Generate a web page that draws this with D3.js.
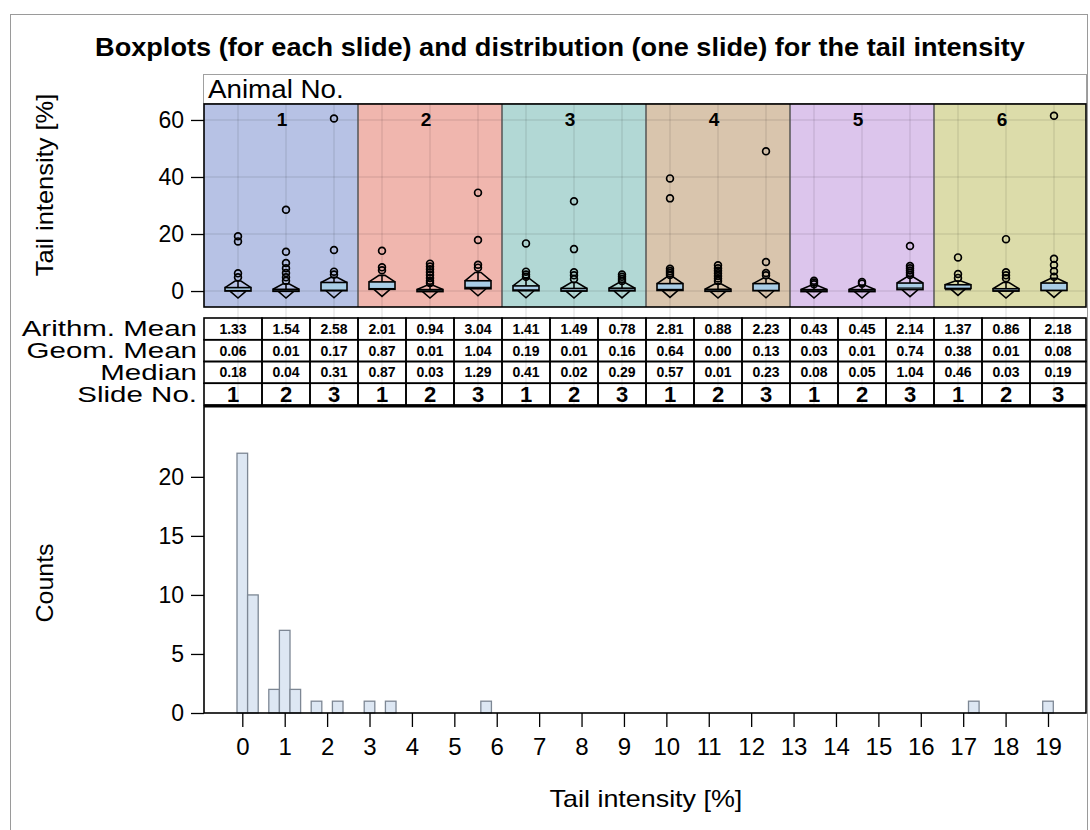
<!DOCTYPE html>
<html>
<head>
<meta charset="utf-8">
<script src="https://cdn.jsdelivr.net/npm/d3@7"></script>
<style>
  body { margin: 0; background: #fff; }
  text { font-family: "Liberation Sans", Arial, sans-serif; fill: #000; }
</style>
</head>
<body>
<svg id="chart" width="1090" height="830"></svg>
<script>
// ---- data ----
const animals = ["1", "2", "3", "4", "5", "6"]
const slides = ["1", "2", "3"]
const panelColors = ["#b7c2e5", "#f0b6ae", "#b2d8d5", "#d9c5ad", "#dcc5ec", "#dcdcaa"]

const arithMean = [1.33, 1.54, 2.58, 2.01, 0.94, 3.04, 1.41, 1.49, 0.78, 2.81, 0.88, 2.23, 0.43, 0.45, 2.14, 1.37, 0.86, 2.18]
const geomMean  = [0.06, 0.01, 0.17, 0.87, 0.01, 1.04, 0.19, 0.01, 0.16, 0.64, 0.00, 0.13, 0.03, 0.01, 0.74, 0.38, 0.01, 0.08]
const medianVal = [0.18, 0.04, 0.31, 0.87, 0.03, 1.29, 0.41, 0.02, 0.29, 0.57, 0.01, 0.23, 0.08, 0.05, 1.04, 0.46, 0.03, 0.19]

// box glyph values per slide (q1, q3, upper whisker)
const boxQ1 = [0.0, 0.0, 0.1, 0.6, 0.0, 0.8, 0.1, 0.0, 0.05, 0.2, 0.0, 0.1, 0.0, 0.0, 0.5, 0.9, 0.0, 0.2]
const boxQ3 = [1.2, 0.6, 3.0, 3.2, 0.5, 3.6, 1.8, 0.9, 1.0, 2.6, 0.6, 2.6, 0.5, 0.5, 2.8, 2.2, 0.8, 2.8]
const boxHi = [3.5, 2.5, 4.8, 5.5, 2.0, 6.5, 4.5, 3.0, 3.0, 5.0, 2.5, 4.5, 2.0, 2.0, 5.0, 3.5, 3.0, 4.5]
const outliers = [
  [19.2, 17.4, 6.2, 4.8],
  [28.5, 13.8, 9.8, 8.0, 6.3, 4.8, 3.6],
  [60.5, 14.4, 6.8, 5.8],
  [14.1, 8.3, 7.3],
  [9.6, 8.6, 7.6, 6.6, 5.6, 4.6, 3.6, 2.8],
  [34.5, 17.9, 9.2, 8.2],
  [16.7, 6.8, 5.8, 5.0],
  [31.5, 14.7, 6.6, 5.5, 4.2],
  [5.8, 5.0, 4.2, 3.5],
  [39.5, 32.5, 7.8, 7.0, 6.3, 5.6],
  [9.0, 8.0, 7.1, 6.2, 5.3, 4.4, 3.5],
  [49.0, 10.2, 6.3, 5.5],
  [3.6, 3.0, 2.4],
  [3.2, 2.6],
  [15.8, 8.8, 8.0, 7.2, 6.4, 5.6],
  [11.8, 6.0, 4.6],
  [18.2, 6.6, 5.5, 4.5],
  [61.5, 11.3, 9.1, 6.9, 5.0]
]
const boxTicks = [0, 20, 40, 60]

// histogram of one slide (bin centre, count), bin width 0.25
const histBins   = [0, 0.25, 0.75, 1.0, 1.25, 1.75, 2.25, 3.0, 3.5, 5.75, 17.25, 19.0]
const histCounts = [22, 10, 2, 7, 2, 1, 1, 1, 1, 1, 1, 1]
const histXTicks = [0, 1, 2, 3, 4, 5, 6, 7, 8, 9, 10, 11, 12, 13, 14, 15, 16, 17, 18, 19]
const histYTicks = [0, 5, 10, 15, 20]
const binWidth = 0.25

const tableRows = [
  { label: "Arithm. Mean", values: arithMean },
  { label: "Geom. Mean", values: geomMean },
  { label: "Median", values: medianVal }
]

// ---- layout ----
const svg = d3.select("#chart")
const plotL = 204, plotR = 1086
const boxTop = 104, boxBot = 307
const tableTop = 318, rowH = 21.75
const histTop = 406, histBot = 713

const slots = d3.range(animals.length * slides.length)
const xSlot = d3.scaleBand().domain(slots).range([214, 1078])
const cx = (i) => xSlot(i) + xSlot.bandwidth() / 2
const yBox = d3.scaleLinear().domain([-5.6, 65.6]).range([boxBot, boxTop])
const xHist = d3.scaleLinear().domain([0, 19]).range([242.3, 1048])
const yHist = d3.scaleLinear().domain([0, 26]).range([histBot, histTop])

const colLeft = (i) => i === 0 ? plotL : xSlot(i)
const colRight = (i) => i === slots.length - 1 ? plotR : xSlot(i) + xSlot.bandwidth()

// the reference's fonts run wider than Arial, so widen some texts a little
function widen(sel, k) {
  sel.each(function () {
    const w = this.getComputedTextLength()
    d3.select(this).attr("textLength", w * k).attr("lengthAdjust", "spacingAndGlyphs")
  })
}

// outer frame
svg.append("rect").attr("x", 10.5).attr("y", 14.5).attr("width", 1077).attr("height", 830)
   .attr("fill", "none").attr("stroke", "#9a9a9a").attr("stroke-width", 1)

// title
svg.append("text").attr("x", 560).attr("y", 56).attr("text-anchor", "middle")
   .attr("font-size", 25).attr("font-weight", "bold")
   .text("Boxplots (for each slide) and distribution (one slide) for the tail intensity")
   .call(widen, 1.085)

// Animal No. header
svg.append("rect").attr("x", 203.5).attr("y", 74.5).attr("width", 883).attr("height", 29)
   .attr("fill", "#fff").attr("stroke", "#a0a0a0")
svg.append("text").attr("x", 208).attr("y", 98).attr("font-size", 25).text("Animal No.")
   .call(widen, 1.11)

// animal panels
const panels = svg.append("g").attr("class", "panels")
animals.forEach((a, k) => {
  const x0 = colLeft(k * 3), x1 = colRight(k * 3 + 2)
  panels.append("rect").attr("x", x0).attr("y", boxTop).attr("width", x1 - x0).attr("height", boxBot - boxTop)
        .attr("fill", panelColors[k])
})

// grid lines (horizontal in panels, vertical through panels and table)
const grid = svg.append("g").attr("class", "grid")
grid.selectAll("line.h").data(boxTicks).join("line")
    .attr("x1", plotL).attr("x2", plotR)
    .attr("y1", (d) => yBox(d)).attr("y2", (d) => yBox(d))
    .attr("stroke", "#000").attr("stroke-opacity", 0.09).attr("stroke-width", 1.5)

// table cells
const table = svg.append("g").attr("class", "table")
const allRows = tableRows.length + 1
table.append("rect").attr("x", plotL).attr("y", boxBot).attr("width", plotR - plotL)
     .attr("height", tableTop - boxBot).attr("fill", "#fff")
for (let r = 0; r < allRows; r++) {
  table.selectAll(`rect.r${r}`).data(slots).join("rect")
       .attr("class", `r${r}`)
       .attr("x", (i) => colLeft(i)).attr("y", tableTop + r * rowH)
       .attr("width", (i) => colRight(i) - colLeft(i)).attr("height", rowH)
       .attr("fill", "#fff")
}

grid.raise()
grid.selectAll("line.v").data(slots).join("line")
    .attr("x1", (i) => cx(i)).attr("x2", (i) => cx(i))
    .attr("y1", boxTop).attr("y2", tableTop + allRows * rowH)
    .attr("stroke", "#000").attr("stroke-opacity", 0.09).attr("stroke-width", 1.5)

const cells = svg.append("g")
for (let r = 0; r < allRows; r++) {
  cells.selectAll(`rect.c${r}`).data(slots).join("rect")
       .attr("x", (i) => colLeft(i)).attr("y", tableTop + r * rowH)
       .attr("width", (i) => colRight(i) - colLeft(i)).attr("height", rowH)
       .attr("fill", "none").attr("stroke", "#000").attr("stroke-width", 1.6)
}
tableRows.forEach((row, r) => {
  cells.selectAll(`text.v${r}`).data(row.values).join("text")
       .attr("x", (d, i) => (colLeft(i) + colRight(i)) / 2)
       .attr("y", tableTop + r * rowH + rowH / 2 + 5)
       .attr("text-anchor", "middle").attr("font-size", 14).attr("font-weight", "bold")
       .text((d) => d.toFixed(2))
})
cells.selectAll("text.slide").data(slots).join("text")
     .attr("x", (i) => (colLeft(i) + colRight(i)) / 2)
     .attr("y", tableTop + 3 * rowH + rowH / 2 + 8)
     .attr("text-anchor", "middle").attr("font-size", 22).attr("font-weight", "bold")
     .text((i) => slides[i % slides.length])

const rowLabels = tableRows.map((d) => d.label).concat(["Slide No."])
svg.selectAll("text.rowlab").data(rowLabels).join("text")
   .attr("x", 197).attr("y", (d, r) => tableTop + r * rowH + rowH / 2 + 7.5)
   .attr("text-anchor", "end").attr("font-size", 22).text((d) => d)
   .call(widen, 1.34)

// boxplot glyphs
const marks = svg.append("g").attr("class", "boxes")
slots.forEach((i) => {
  const x = cx(i), hw = 13
  const g = marks.append("g")
  g.append("line").attr("x1", x).attr("x2", x).attr("y1", yBox(boxQ3[i])).attr("y2", yBox(boxHi[i]))
   .attr("stroke", "#000").attr("stroke-width", 1.5)
  g.append("path")
   .attr("d", `M${x - hw},${yBox(boxQ3[i])} L${x - 3},${yBox(boxHi[i])} L${x + 3},${yBox(boxHi[i])} L${x + hw},${yBox(boxQ3[i])}`)
   .attr("fill", "none").attr("stroke", "#000").attr("stroke-width", 1.6)
  g.append("path")
   .attr("d", `M${x - 8},${yBox(boxQ1[i])} L${x},${yBox(boxQ1[i]) + 7} L${x + 8},${yBox(boxQ1[i])}`)
   .attr("fill", "none").attr("stroke", "#000").attr("stroke-width", 1.6)
  g.append("rect").attr("x", x - hw).attr("width", hw * 2)
   .attr("y", yBox(boxQ3[i])).attr("height", Math.max(2, yBox(boxQ1[i]) - yBox(boxQ3[i])))
   .attr("fill", "#a9cde6").attr("stroke", "#000").attr("stroke-width", 1.6)
  g.append("line").attr("x1", x - hw).attr("x2", x + hw)
   .attr("y1", yBox(medianVal[i])).attr("y2", yBox(medianVal[i]))
   .attr("stroke", "#000").attr("stroke-width", 1.2)
  g.selectAll("circle").data(outliers[i]).join("circle")
   .attr("cx", x).attr("cy", (d) => yBox(d)).attr("r", 3.4)
   .attr("fill", "none").attr("stroke", "#000").attr("stroke-width", 1.7)
})

// panel borders and labels
animals.forEach((a, k) => {
  panels.append("text").attr("x", cx(k * 3 + 1) - 4).attr("y", 126).attr("text-anchor", "middle")
        .attr("font-size", 19).attr("font-weight", "bold").text(a)
})
const borders = svg.append("g")
animals.slice(1).forEach((a, k) => {
  const x = colLeft((k + 1) * 3)
  borders.append("line").attr("x1", x).attr("x2", x).attr("y1", boxTop).attr("y2", boxBot)
         .attr("stroke", "#555").attr("stroke-width", 1.5)
})
panels.raise()
panels.selectAll("rect").lower()
borders.append("rect").attr("x", plotL).attr("y", boxTop).attr("width", plotR - plotL).attr("height", boxBot - boxTop)
       .attr("fill", "none").attr("stroke", "#000").attr("stroke-width", 1.6)
panels.lower()

// box y axis
const yAxisBox = svg.append("g").attr("transform", `translate(${plotL},0)`)
  .call(d3.axisLeft(yBox).tickValues(boxTicks).tickSize(13).tickPadding(7))
yAxisBox.select(".domain").remove()
yAxisBox.selectAll("text").attr("font-size", 23).attr("font-family", "Liberation Sans, Arial, sans-serif")
yAxisBox.selectAll("line").attr("stroke", "#000").attr("stroke-width", 1.3)

svg.append("text").attr("transform", "translate(53,185) rotate(-90)").attr("text-anchor", "middle")
   .attr("font-size", 24).text("Tail intensity [%]")
   .call(widen, 1.06)

// histogram
const hist = svg.append("g")
hist.append("rect").attr("x", plotL).attr("y", histTop).attr("width", plotR - plotL).attr("height", histBot - histTop)
    .attr("fill", "#fff")
hist.selectAll("rect.bar").data(histBins).join("rect").attr("class", "bar")
    .attr("x", (d) => xHist(d - binWidth / 2)).attr("width", xHist(binWidth) - xHist(0))
    .attr("y", (d, i) => yHist(histCounts[i])).attr("height", (d, i) => histBot - yHist(histCounts[i]))
    .attr("fill", "#dde7f3").attr("stroke", "#7d8794").attr("stroke-width", 1.3)
hist.append("rect").attr("x", plotL).attr("y", histTop).attr("width", plotR - plotL).attr("height", histBot - histTop)
    .attr("fill", "none").attr("stroke", "#000").attr("stroke-width", 1.6)
hist.append("line").attr("x1", plotL).attr("x2", plotR).attr("y1", histTop).attr("y2", histTop)
    .attr("stroke", "#000").attr("stroke-width", 3)

const xAxisH = hist.append("g").attr("transform", `translate(0,${histBot})`)
  .call(d3.axisBottom(xHist).tickValues(histXTicks).tickSize(14).tickPadding(11).tickFormat(d3.format("d")))
xAxisH.select(".domain").remove()
xAxisH.selectAll("text").attr("font-size", 24).attr("font-family", "Liberation Sans, Arial, sans-serif")
xAxisH.selectAll("line").attr("stroke", "#000").attr("stroke-width", 1.3)

const yAxisH = hist.append("g").attr("transform", `translate(${plotL},0)`)
  .call(d3.axisLeft(yHist).tickValues(histYTicks).tickSize(13).tickPadding(7))
yAxisH.select(".domain").remove()
yAxisH.selectAll("text").attr("font-size", 23).attr("font-family", "Liberation Sans, Arial, sans-serif")
yAxisH.selectAll("line").attr("stroke", "#000").attr("stroke-width", 1.3)

svg.append("text").attr("x", 646).attr("y", 807).attr("text-anchor", "middle")
   .attr("font-size", 24).text("Tail intensity [%]")
   .call(widen, 1.12)
svg.append("text").attr("transform", "translate(53,583) rotate(-90)").attr("text-anchor", "middle")
   .attr("font-size", 24).text("Counts")
   .call(widen, 1.04)
</script>
</body>
</html>
